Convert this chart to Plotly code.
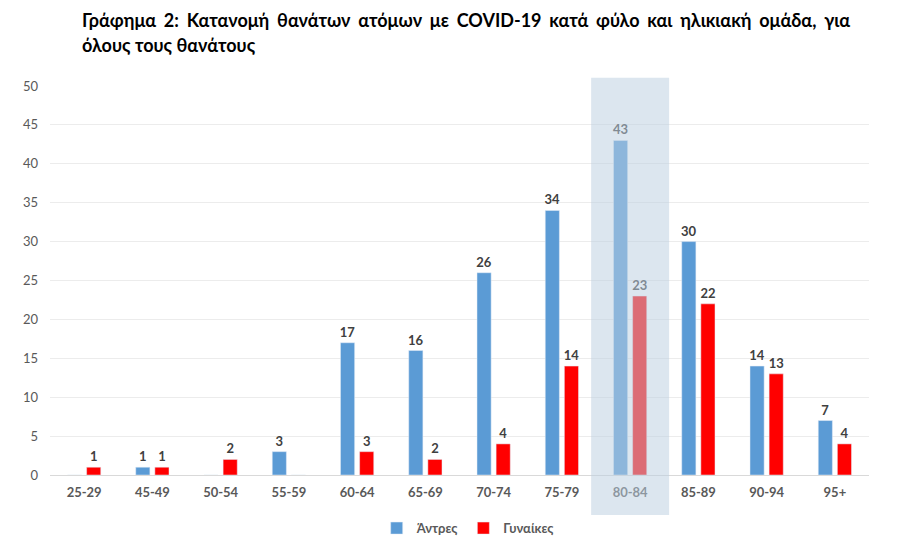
import plotly.graph_objects as go

categories = ["25-29", "45-49", "50-54", "55-59", "60-64", "65-69",
              "70-74", "75-79", "80-84", "85-89", "90-94", "95+"]
men = [0, 1, 0, 3, 17, 16, 26, 34, 43, 30, 14, 7]
women = [1, 1, 2, 0, 3, 2, 4, 14, 23, 22, 13, 4]
highlight = "80-84"
title_line1 = "Γράφημα 2: Κατανομή θανάτων ατόμων με COVID-19 κατά φύλο και ηλικιακή ομάδα, για"
title_line2 = "όλους τους θανάτους"

FONT = "Lato, 'Open Sans', sans-serif"

def labels(vals):
    return [str(v) if v else "" for v in vals]

fig = go.Figure()
fig.add_trace(go.Bar(
    x=categories, y=men, name="Άντρες", marker_color="#5b9bd5",
    text=labels(men), textposition="outside", cliponaxis=False, constraintext="none",
    textfont=dict(family=FONT, size=13, color="#404040", weight="bold"),
))
fig.add_trace(go.Bar(
    x=categories, y=women, name="Γυναίκες", marker_color="#ff0000",
    text=labels(women), textposition="outside", cliponaxis=False, constraintext="none",
    textfont=dict(family=FONT, size=13, color="#404040", weight="bold"),
))

hi = categories.index(highlight)
fig.add_shape(type="rect", xref="x", yref="paper",
              x0=hi - 0.571, x1=hi + 0.571, y0=-0.103, y1=1.021,
              fillcolor="rgba(188,207,225,0.52)", line_width=0, layer="above")

# justified first title line: widen word gaps with thin + hair spaces
line1 = (" \u2009\u200a").join(title_line1.split(" "))
fig.add_annotation(
    text="<b>" + line1 + "</b>",
    xref="paper", yref="paper", x=0, y=1, xanchor="left", yanchor="middle",
    showarrow=False, font=dict(family=FONT, size=18, color="#000000"),
    yshift=86 - 20, xshift=80 - 50,
)
fig.add_annotation(
    text="<b>" + title_line2 + "</b>",
    xref="paper", yref="paper", x=0, y=1, xanchor="left", yanchor="middle",
    showarrow=False, font=dict(family=FONT, size=18, color="#000000"),
    yshift=86 - 45, xshift=80 - 50,
)

fig.update_layout(
    width=899, height=553,
    margin=dict(l=50, r=30, t=86, b=78, autoexpand=False),
    paper_bgcolor="white", plot_bgcolor="white",
    barmode="group", bargap=0.44, bargroupgap=0.26,
    font=dict(family=FONT, color="#595959"),
    showlegend=True,
    legend=dict(orientation="h", x=0.51, xanchor="center", y=-0.098, yanchor="top",
                font=dict(family=FONT, size=13, color="#595959", weight="bold"),
                itemwidth=30, traceorder="normal"),
    xaxis=dict(
        type="category", showgrid=False, showline=True, linecolor="#d9d9d9",
        linewidth=1, ticks="", tickfont=dict(family=FONT, size=13, color="#595959", weight="bold"),
        range=[-0.5, len(categories) - 0.5], ticklabelstandoff=5,
    ),
    yaxis=dict(
        range=[0, 50], dtick=5, showgrid=True, gridcolor="#ececec", gridwidth=1,
        zeroline=False, showline=False, ticks="",
        tickfont=dict(family=FONT, size=13, color="#595959"),
        ticklabelstandoff=11,
    ),
)

fig.write_html("out.html", config={"displayModeBar": False},
               post_script="document.body.style.margin='0';")
